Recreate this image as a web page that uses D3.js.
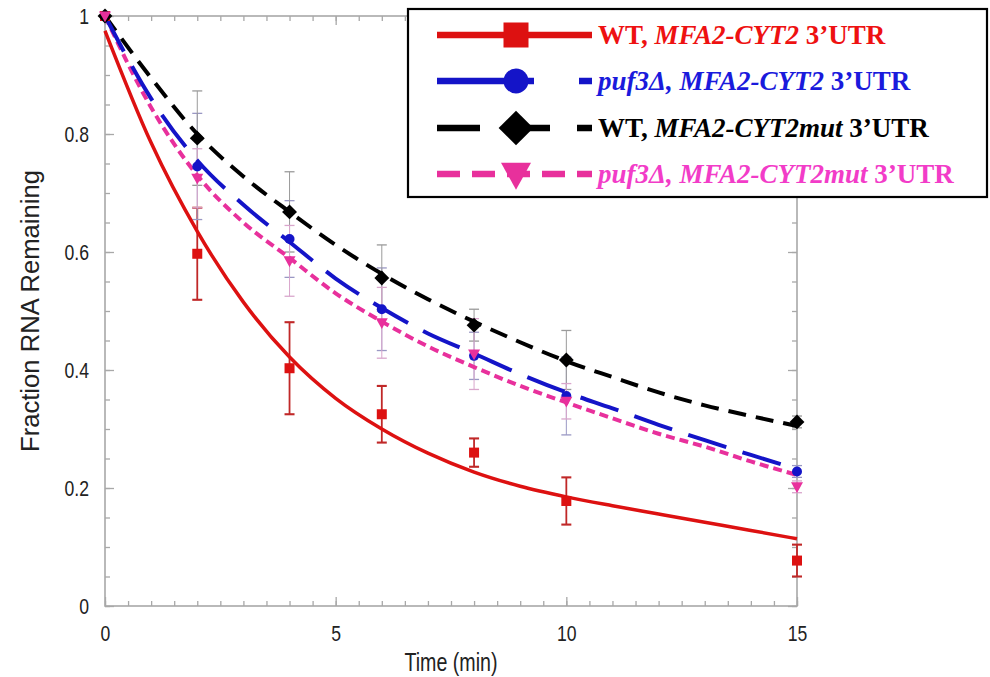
<!DOCTYPE html>
<html>
<head>
<meta charset="utf-8">
<script src="https://cdn.jsdelivr.net/npm/d3@7"></script>
<style>
body { margin: 0; background: #fff; }
svg { display: block; }
</style>
</head>
<body>
<script>
// measured time points (min)
var times = [0, 2, 4, 6, 8, 10, 15]
// fit curve sample times (min)
var fitTimes = [0, 1, 2, 3, 4, 5, 6, 7, 8, 9, 10, 11, 12, 13, 14, 15]

var wt_cyt2 = [1.0, 0.597, 0.403, 0.325, 0.26, 0.178, 0.077]
var wt_cyt2_err = [0, 0.078, 0.078, 0.048, 0.024, 0.04, 0.027]
var wt_cyt2_fit = [0.975, 0.785, 0.635, 0.515, 0.422, 0.352, 0.3, 0.259, 0.227, 0.203, 0.185, 0.17, 0.156, 0.142, 0.128, 0.114]

var puf_cyt2 = [1.0, 0.745, 0.622, 0.503, 0.424, 0.356, 0.228]
var puf_cyt2_err = [0, 0.09, 0.065, 0.07, 0.04, 0.066, 0.01]
var puf_cyt2_fit = [1.0, 0.86, 0.755, 0.68, 0.617, 0.555, 0.505, 0.462, 0.428, 0.393, 0.362, 0.335, 0.307, 0.281, 0.256, 0.232]

var wt_mut = [1.0, 0.793, 0.668, 0.556, 0.476, 0.417, 0.312]
var wt_mut_err = [0, 0.08, 0.068, 0.056, 0.027, 0.05, 0.01]
var wt_mut_fit = [1.0, 0.895, 0.8, 0.728, 0.668, 0.612, 0.563, 0.52, 0.482, 0.447, 0.415, 0.388, 0.362, 0.34, 0.322, 0.305]

var puf_mut = [1.0, 0.725, 0.585, 0.48, 0.427, 0.347, 0.202]
var puf_mut_err = [0, 0.05, 0.06, 0.06, 0.06, 0.03, 0.01]
var puf_mut_fit = [1.0, 0.845, 0.73, 0.65, 0.59, 0.53, 0.482, 0.44, 0.405, 0.373, 0.345, 0.318, 0.292, 0.27, 0.245, 0.222]

var xTicks = [0, 5, 10, 15]
var yTicks = [0, 0.2, 0.4, 0.6, 0.8, 1]
var yTickLabels = ["0", "0.2", "0.4", "0.6", "0.8", "1"]

// legend label pieces: [text, italic?]
var labels = [
    [["WT, ", false], ["MFA2-CYT2", true], [" 3\u2019UTR", false]],
    [["puf3\u0394, MFA2-CYT2", true], [" 3\u2019UTR", false]],
    [["WT, ", false], ["MFA2-CYT2mut", true], [" 3\u2019UTR", false]],
    [["puf3\u0394, MFA2-CYT2mut", true], [" 3\u2019UTR", false]]
]

const width = 990
const height = 677

var series = [
    { pts: wt_cyt2, err: wt_cyt2_err, fit: wt_cyt2_fit, color: "#dd1111", text: "#ee1111", errColor: "#c02828", errW: 1.8, dash: null, lw: 3.5, shape: "square", legDash: null },
    { pts: puf_cyt2, err: puf_cyt2_err, fit: puf_cyt2_fit, color: "#1414c8", text: "#1a1adc", errColor: "#9a98c4", errW: 1, dash: "40,17", lw: 4, shape: "circle", legDash: "97,45" },
    { pts: wt_mut, err: wt_mut_err, fit: wt_mut_fit, color: "#000", text: "#000", errColor: "#9a9a9a", errW: 1, dash: "18,10", lw: 4, shape: "diamond", legDash: "43,27" },
    { pts: puf_mut, err: puf_mut_err, fit: puf_mut_fit, color: "#e8309c", text: "#f23cc8", errColor: "#d9a6cc", errW: 1, dash: "9,5", lw: 4, shape: "triangle", legDash: "23,12" }
]

var svg = d3.select("body").append("svg").attr("width", width).attr("height", height)

var x = d3.scaleLinear().domain([0, 15]).range([105, 797])
var y = d3.scaleLinear().domain([0, 1]).range([606, 16])

var axisColor = "#a8a8a8"
var tickFont = "'Liberation Sans', Arial, sans-serif"

function styleAxis(g) {
    g.select(".domain").remove()
    g.selectAll(".tick line").attr("stroke", axisColor).attr("stroke-width", 1.3)
    g.selectAll("text").attr("fill", "#222").style("font-family", tickFont).style("font-size", "22px")
        .attr("lengthAdjust", "spacingAndGlyphs")
        .each(function () { this.setAttribute("textLength", this.getComputedTextLength() * 0.8) })
}

// minor ticks
svg.append("g").attr("transform", "translate(0,606)")
    .call(d3.axisBottom(x).ticks(30).tickSize(-5).tickFormat(""))
    .call(styleAxis)
svg.append("g").attr("transform", "translate(0,16)")
    .call(d3.axisTop(x).ticks(30).tickSize(-5).tickFormat(""))
    .call(styleAxis)
svg.append("g").attr("transform", "translate(105,0)")
    .call(d3.axisLeft(y).ticks(20).tickSize(-5).tickFormat(""))
    .call(styleAxis)
svg.append("g").attr("transform", "translate(797,0)")
    .call(d3.axisRight(y).ticks(20).tickSize(-5).tickFormat(""))
    .call(styleAxis)

// major ticks + labels
svg.append("g").attr("transform", "translate(0,606)")
    .call(d3.axisBottom(x).tickValues(xTicks).tickSize(-9).tickPadding(19))
    .call(styleAxis)
svg.append("g").attr("transform", "translate(105,0)")
    .call(d3.axisLeft(y).tickValues(yTicks).tickSize(-9).tickPadding(16).tickFormat((d, i) => yTickLabels[i]))
    .call(styleAxis)
svg.append("g").attr("transform", "translate(797,0)")
    .call(d3.axisRight(y).tickValues(yTicks).tickSize(-9).tickFormat(""))
    .call(styleAxis)
svg.append("g").attr("transform", "translate(0,16)")
    .call(d3.axisTop(x).tickValues(xTicks).tickSize(-9).tickFormat(""))
    .call(styleAxis)

// frame
svg.append("rect").attr("x", x(0)).attr("y", y(1))
    .attr("width", x(15) - x(0)).attr("height", y(0) - y(1))
    .attr("fill", "none").attr("stroke", axisColor).attr("stroke-width", 1.6)

svg.append("text").attr("x", 451).attr("y", 671).attr("text-anchor", "middle")
    .style("font-family", tickFont).style("font-size", "25px").attr("fill", "#222")
    .attr("textLength", 93).attr("lengthAdjust", "spacingAndGlyphs")
    .text("Time (min)")
svg.append("text").attr("transform", "translate(39,311) rotate(-90)").attr("text-anchor", "middle")
    .style("font-family", tickFont).style("font-size", "26px").attr("fill", "#222")
    .attr("textLength", 282).attr("lengthAdjust", "spacingAndGlyphs")
    .text("Fraction RNA Remaining")

// error bars
series.forEach(function (s) {
    var eb = svg.append("g")
    times.forEach(function (t, i) {
        if (!s.err[i]) return
        var lo = y(s.pts[i] - s.err[i]), hi = y(s.pts[i] + s.err[i])
        eb.append("line").attr("x1", x(t)).attr("x2", x(t)).attr("y1", lo).attr("y2", hi)
            .attr("stroke", s.errColor).attr("stroke-width", s.errW)
        eb.append("line").attr("x1", x(t) - 5).attr("x2", x(t) + 5).attr("y1", lo).attr("y2", lo)
            .attr("stroke", s.errColor).attr("stroke-width", s.errW + 0.3)
        eb.append("line").attr("x1", x(t) - 5).attr("x2", x(t) + 5).attr("y1", hi).attr("y2", hi)
            .attr("stroke", s.errColor).attr("stroke-width", s.errW + 0.3)
    })
})

var line = d3.line()
    .x((d, i) => x(fitTimes[i]))
    .y((d) => y(d))
    .curve(d3.curveMonotoneX)

function marker(g, shape, cx, cy, size, color) {
    if (shape == "square") {
        g.append("rect").attr("x", cx - size / 2).attr("y", cy - size / 2).attr("width", size).attr("height", size).attr("fill", color)
    } else if (shape == "circle") {
        g.append("circle").attr("cx", cx).attr("cy", cy).attr("r", size / 2).attr("fill", color)
    } else if (shape == "diamond") {
        var h = size * 0.62
        g.append("path").attr("d", "M" + cx + "," + (cy - h) + "L" + (cx + h) + "," + cy + "L" + cx + "," + (cy + h) + "L" + (cx - h) + "," + cy + "Z").attr("fill", color)
    } else {
        var w = size * 0.6
        g.append("path").attr("d", "M" + (cx - w) + "," + (cy - w * 0.75) + "L" + (cx + w) + "," + (cy - w * 0.75) + "L" + cx + "," + (cy + w * 1.05) + "Z").attr("fill", color)
    }
}

// fit curves then markers (reverse so red sits on top like the reference)
series.slice().reverse().forEach(function (s) {
    svg.append("path").datum(s.fit)
        .attr("fill", "none")
        .attr("stroke", s.color)
        .attr("stroke-width", s.lw)
        .attr("stroke-dasharray", s.dash)
        .attr("d", line)
})
series.forEach(function (s) {
    var g = svg.append("g")
    times.forEach(function (t, i) {
        marker(g, s.shape, x(t), y(s.pts[i]), s.shape == "diamond" ? 12 : 10, s.color)
    })
})

// legend
var leg = svg.append("g")
leg.append("rect").attr("x", 408).attr("y", 9).attr("width", 579).attr("height", 188)
    .attr("fill", "#fff").attr("stroke", "#000").attr("stroke-width", 2.2)

var rowY = [35, 81, 128, 174]
series.forEach(function (s, i) {
    var yy = rowY[i]
    leg.append("line").attr("x1", 437).attr("x2", 592).attr("y1", yy).attr("y2", yy)
        .attr("stroke", s.color).attr("stroke-width", 6.5)
        .attr("stroke-dasharray", s.legDash)
    marker(leg, s.shape, 516, yy, s.shape == "diamond" ? 28 : 25, s.color)
    var t = leg.append("text").attr("x", 598).attr("y", yy + 9)
        .style("font-family", "'Liberation Serif', 'Times New Roman', serif")
        .style("font-size", "27px").style("font-weight", "bold")
        .attr("fill", s.text)
    labels[i].forEach(function (p) {
        t.append("tspan").text(p[0]).style("font-style", p[1] ? "italic" : "normal")
    })
})
</script>
</body>
</html>
